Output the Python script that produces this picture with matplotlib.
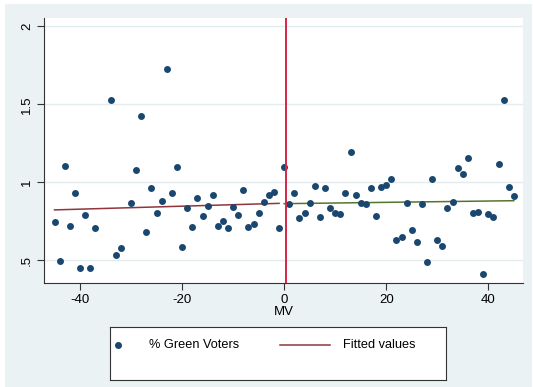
import matplotlib.pyplot as plt
from matplotlib.patches import Rectangle
from matplotlib.lines import Line2D

plt.rcParams['font.family'] = ['Liberation Sans', 'DejaVu Sans']

# scatter data: margin of victory vs share of green voters
mv = [-45, -44, -43, -42, -41, -40, -39, -38, -37, -34, -33, -32, -30, -29, -28,
      -27, -26, -25, -24, -23, -22, -21, -20, -19, -18, -17, -16, -15, -14, -13,
      -12, -11, -10, -9, -8, -7, -6, -5, -4, -3, -2, -1, 0,
      1, 2, 3, 4, 5, 6, 7, 8, 9, 10, 11, 12, 13, 14, 15, 16, 17, 18, 19, 20,
      21, 22, 23, 24, 25, 26, 27, 28, 29, 30, 31, 32, 33, 34, 35, 36, 37, 38,
      39, 40, 41, 42, 43, 44, 45]
green = [0.744, 0.494, 1.105, 0.722, 0.934, 0.453, 0.790, 0.453, 0.709, 1.530,
         0.536, 0.579, 0.870, 1.079, 1.423, 0.684, 0.962, 0.806, 0.882, 1.726,
         0.929, 1.096, 0.588, 0.838, 0.714, 0.902, 0.782, 0.850, 0.917, 0.722,
         0.754, 0.709, 0.842, 0.790, 0.953, 0.714, 0.731, 0.806, 0.874, 0.921,
         0.938, 0.705, 1.096,
         0.863, 0.929, 0.769, 0.803, 0.868, 0.976, 0.778, 0.962, 0.833, 0.803,
         0.799, 0.929, 1.192, 0.917, 0.868, 0.863, 0.962, 0.782, 0.968, 0.981,
         1.021, 0.632, 0.647, 0.868, 0.692, 0.615, 0.859, 0.489, 1.021, 0.628,
         0.592, 0.838, 0.874, 1.092, 1.053, 1.156, 0.803, 0.812, 0.410, 0.795,
         0.776, 1.120, 1.530, 0.968, 0.910]

# fitted values on each side of the cutoff
fit_left_x = [-45, -1]
fit_left_y = [0.823, 0.865]
fit_right_x = [0, 45]
fit_right_y = [0.863, 0.882]
cutoff = 0.4

yticks = [0.5, 1, 1.5, 2]
ytick_labels = ['.5', '1', '1.5', '2']
xticks = [-40, -20, 0, 20, 40]

bg = '#EAF2F3'
navy = '#1A476F'

fig = plt.figure(figsize=(5.33, 3.87), dpi=100, facecolor='white')
fig.patches.append(Rectangle((5 / 533, 0), 527 / 533, 383 / 387,
                             transform=fig.transFigure, facecolor=bg,
                             edgecolor='none', zorder=-10))

ax = fig.add_axes([44.3 / 533, 1 - 283 / 387, (523 - 44.3) / 533, (283 - 18) / 387])
ax.set_facecolor('white')

for t in yticks:
    ax.axhline(t, color='#E3EBEC', lw=1.0, zorder=1)

ax.scatter(mv, green, s=25, color=navy, zorder=3, linewidths=0)
ax.plot(fit_left_x, fit_left_y, color='#90353B', lw=1.1, zorder=2)
ax.plot(fit_right_x, fit_right_y, color='#55752F', lw=1.1, zorder=2)
ax.axvline(cutoff, color='#D6264A', lw=1.4, zorder=4)

ax.set_xlim(-47, 46.8)
ax.set_ylim(0.3545, 2.053)
ax.set_xticks(xticks)
ax.set_xticklabels([str(t) for t in xticks])
ax.set_yticks(yticks)
ax.set_yticklabels(ytick_labels, rotation=90, va='center')
ax.tick_params(direction='out', length=5, width=0.8, color='#333333',
               labelsize=9.5, pad=3)
for s in ['top', 'right']:
    ax.spines[s].set_visible(False)
for s in ['left', 'bottom']:
    ax.spines[s].set_color('#333333')
    ax.spines[s].set_linewidth(0.8)
ax.set_xlabel('MV', fontsize=9.5, labelpad=0)

# legend box drawn as its own panel
lax = fig.add_axes([110 / 533, 1 - 380 / 387, 336 / 533, 53 / 387])
lax.set_facecolor('white')
lax.set_xticks([])
lax.set_yticks([])
for s in lax.spines.values():
    s.set_color('#333333')
    s.set_linewidth(0.8)
lax.set_xlim(0, 336)
lax.set_ylim(53, 0)
lax.add_line(Line2D([8], [18], marker='o', markersize=4, color=navy, lw=0))
lax.text(39, 18, '% Green Voters', fontsize=9.2, va='center', ha='left')
lax.add_line(Line2D([170, 220], [18, 18], color='#90353B', lw=1.1))
lax.text(233, 18, 'Fitted values', fontsize=9.2, va='center', ha='left')

fig.savefig('out.png', dpi=100, facecolor=fig.get_facecolor())
